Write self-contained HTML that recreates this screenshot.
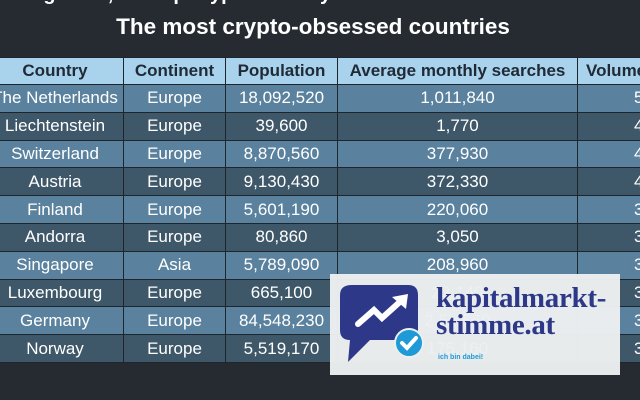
<!DOCTYPE html>
<html><head><style>
body{margin:0;width:640px;height:400px;background:#252b31;overflow:hidden;position:relative;font-family:"Liberation Sans",sans-serif}
.top{position:absolute;top:-17px;left:20px;color:#fff;font-weight:bold;font-size:20px}
.title{position:absolute;top:14px;left:0;width:626px;text-align:center;color:#fff;font-weight:bold;font-size:22.5px}
table{position:absolute;left:-14px;top:57px;border-collapse:collapse;font-size:17px;color:#fff;table-layout:fixed;width:680px}
td,th{border:1.5px solid #1e262d;text-align:center;height:26.8px;padding:0;white-space:nowrap;overflow:hidden}
th{background:#a9d3ec;color:#1f2a36;font-weight:bold;height:26px}
tr:nth-child(even) td{background:#5a819d}
tr:nth-child(odd) td{background:#3f5869}
td:last-child{text-align:left;padding-left:56px}
.logo{position:absolute;left:330px;top:274px;width:290px;height:101px;background:rgba(236,239,241,0.97)}
.k{position:absolute;left:106px;top:11px;font-family:"Liberation Serif",serif;font-weight:bold;color:#2d3889;font-size:29px;line-height:27px;letter-spacing:-0.3px}
.s{position:absolute;left:108px;top:80px;color:#1e9ad6;font-size:7px;font-weight:bold}
</style></head><body>
<div class="top">Legend..., the top crypto country</div>
<div class="title">The most crypto-obsessed countries</div>
<table>
<colgroup><col style="width:137px"><col style="width:102px"><col style="width:112px"><col style="width:240px"><col style="width:89px"></colgroup>
<tr><th>Country</th><th>Continent</th><th>Population</th><th>Average monthly searches</th><th style="text-align:left;padding-left:8px">Volume</th></tr>
<tr><td>The Netherlands</td><td>Europe</td><td>18,092,520</td><td>1,011,840</td><td>5</td></tr>
<tr><td>Liechtenstein</td><td>Europe</td><td>39,600</td><td>1,770</td><td>4</td></tr>
<tr><td>Switzerland</td><td>Europe</td><td>8,870,560</td><td>377,930</td><td>4</td></tr>
<tr><td>Austria</td><td>Europe</td><td>9,130,430</td><td>372,330</td><td>4</td></tr>
<tr><td>Finland</td><td>Europe</td><td>5,601,190</td><td>220,060</td><td>3</td></tr>
<tr><td>Andorra</td><td>Europe</td><td>80,860</td><td>3,050</td><td>3</td></tr>
<tr><td>Singapore</td><td>Asia</td><td>5,789,090</td><td>208,960</td><td>3</td></tr>
<tr><td>Luxembourg</td><td>Europe</td><td>665,100</td><td>23,140</td><td>3</td></tr>
<tr><td>Germany</td><td>Europe</td><td>84,548,230</td><td>2,5..,560</td><td>3</td></tr>
<tr><td>Norway</td><td>Europe</td><td>5,519,170</td><td>175,160</td><td>3</td></tr>
</table>
<div class="logo">
<svg width="110" height="101" style="position:absolute;left:0;top:0">
<path d="M22 11 H78 Q88 11 88 21 V56 Q88 66 78 66 H40 L18 88 L20 66 Q10 66 10 56 V21 Q10 11 22 11Z" fill="#2d3889"/>
<path d="M28 50 L44 36 L52 44 L72 26" stroke="#fff" stroke-width="6" fill="none" stroke-linecap="round"/>
<path d="M62 23 L78 20 L76 35Z" fill="#fff"/>
<circle cx="79" cy="69" r="14" fill="#1e9ad6" stroke="#eceff1" stroke-width="2"/>
<path d="M72 69 L77 74 L86 64" stroke="#fff" stroke-width="4" fill="none" stroke-linecap="round"/>
</svg>
<div class="k">kapitalmarkt-<br>stimme.at</div>
<div class="s">ich bin dabei!</div>
</div>
</body></html>
